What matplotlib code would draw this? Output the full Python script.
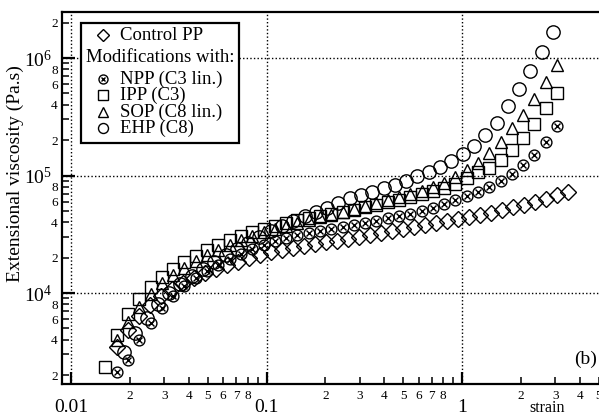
import numpy as np
import matplotlib
matplotlib.use("Agg")
import matplotlib.pyplot as plt
from matplotlib.lines import Line2D
from matplotlib.patches import Rectangle
from matplotlib.ticker import LogLocator, FuncFormatter, LogFormatterSciNotation

plt.rcParams['font.family'] = ['Liberation Serif', 'DejaVu Serif']
plt.rcParams['mathtext.fontset'] = 'stix'

# ---- data (strain, extensional viscosity in Pa.s) ----
strain_pp = [0.0172, 0.0196, 0.0223, 0.0254, 0.0289, 0.0329, 0.0374, 0.0426, 0.0485, 0.0552,
             0.0629, 0.0715, 0.0814, 0.0927, 0.1055, 0.120, 0.1367, 0.1556, 0.177, 0.2017,
             0.2296, 0.2613, 0.2974, 0.3385, 0.3853, 0.4386, 0.4993, 0.568, 0.647, 0.736,
             0.838, 0.954, 1.086, 1.236, 1.408, 1.602, 1.824, 2.076, 2.364, 2.691, 3.063, 3.486]
visc_pp = [3470, 4840, 6370, 7900, 9430, 10820, 12160, 13420, 14800, 16000,
           17310, 18360, 19860, 21060, 22340, 23220, 24150, 25120, 26120, 27170,
           27710, 28820, 29970, 31170, 32410, 33710, 35060, 36460, 37920, 39430,
           41010, 42650, 44350, 46120, 47970, 50860, 53930, 56090, 59480, 63100, 68240, 72420]

strain_mod = [0.01713, 0.01957, 0.02235, 0.02553, 0.02916, 0.03331, 0.03805, 0.04346, 0.04963, 0.05670,
              0.06476, 0.07396, 0.08448, 0.09651, 0.1102, 0.1259, 0.1438, 0.1643, 0.1876, 0.2143,
              0.2447, 0.2796, 0.3193, 0.3648, 0.4166, 0.4759, 0.5436, 0.6209, 0.7091, 0.8100,
              0.9254, 1.057, 1.207, 1.379, 1.575, 1.799, 2.055, 2.347, 2.681, 3.063]
strain_npp = strain_mod
visc_npp = [2127, 2690, 3981, 5555, 7452, 9430, 11470, 13420, 15390, 17310,
            19470, 21480, 23690, 25620, 27710, 29380, 31170, 32410, 33710, 35060,
            36460, 37920, 39430, 41010, 43480, 45230, 47030, 49880, 52900, 57200,
            61870, 66910, 72420, 79830, 89780, 103000, 122900, 149500, 192800, 263800]

strain_ipp = [0.01500] + strain_mod
visc_ipp = [2346, 4390, 6627, 8890, 11250, 13680, 16000, 18360, 20640, 23220,
            25620, 28260, 30560, 33050, 35060, 37170, 39430, 41810, 43480, 45230,
            47030, 48920, 50860, 53930, 56090, 59480, 61870, 65620, 69600, 73810,
            78280, 84660, 95210, 107100, 115800, 135500, 164800, 208500, 274400, 375400, 503600]

strain_sop = strain_mod
visc_sop = [3981, 5665, 7601, 9806, 12160, 14230, 16320, 18720, 21060, 23220,
            25620, 28260, 30560, 33050, 35060, 37170, 39430, 41810, 44350, 46120,
            48920, 51860, 55000, 58340, 61870, 65620, 69600, 73810, 79830, 86340,
            97100, 111400, 127800, 155400, 192800, 253700, 327300, 447900, 624800, 871800]

strain_ehp = [0.01867, 0.02133, 0.02437, 0.02782, 0.03178, 0.03630, 0.04146, 0.04735, 0.05408, 0.06177,
              0.07055, 0.08058, 0.09203, 0.1051, 0.1201, 0.1371, 0.1566, 0.1789, 0.2043, 0.2334,
              0.2666, 0.3044, 0.3477, 0.3972, 0.4536, 0.5181, 0.5918, 0.6759, 0.7720, 0.8817,
              1.007, 1.150, 1.314, 1.501, 1.714, 1.958, 2.236, 2.554, 2.917]
visc_ehp = [3147, 4566, 6127, 8061, 10000, 11930, 13950, 16000, 18360, 21060,
            23690, 26650, 29970, 33710, 37170, 41010, 45230, 48920, 52900, 58340,
            64370, 68240, 72420, 78280, 83020, 89780, 99020, 107100, 118100, 132900,
            152400, 178300, 221200, 279800, 390400, 544800, 775300, 1124700, 1664000]

legend_labels = ["Control PP", "Modifications with:", "NPP (C3 lin.)", "IPP (C3)",
                 "SOP (C8 lin.)", "EHP (C8)"]

W, H = 599, 416
fig = plt.figure(figsize=(W / 100, H / 100), dpi=100)
ax = fig.add_axes([62 / W, 1 - 384 / H, (W - 62) / W, (384 - 12) / H])

mk = dict(ls="none", mfc="none", mec="k", mew=1.0)
ax.plot(strain_pp, visc_pp, marker="D", ms=8.0, **mk, zorder=3)
ax.plot(strain_ehp, visc_ehp, marker="o", ms=9.6, **mk, zorder=3)
ax.plot(strain_sop, visc_sop, marker="^", ms=8.8, **mk, zorder=3)
ax.plot(strain_ipp, visc_ipp, marker="s", ms=8.6, **mk, zorder=3)
ax.plot(strain_npp, visc_npp, marker="o", ms=7.8, **mk, zorder=3)
ax.plot(strain_npp, visc_npp, marker="x", ms=4.4, **mk, zorder=3)

ax.set_xscale("log")
ax.set_yscale("log")
ax.set_xlim(0.00899, 5.02)
ax.set_ylim(1681, 2.464e6)

ax.xaxis.set_major_locator(LogLocator(base=10, numticks=10))
ax.xaxis.set_minor_locator(LogLocator(base=10, subs=range(2, 10), numticks=20))
ax.yaxis.set_major_locator(LogLocator(base=10, numticks=10))
ax.yaxis.set_minor_locator(LogLocator(base=10, subs=range(2, 10), numticks=20))


def digit(v):
    return int(round(v / 10 ** np.floor(np.log10(v) + 1e-9)))


ax.xaxis.set_major_formatter(FuncFormatter(lambda v, p: f"{v:g}"))
ax.xaxis.set_minor_formatter(FuncFormatter(lambda v, p: str(digit(v)) if 2 <= digit(v) <= 8 else ""))
ax.yaxis.set_major_formatter(LogFormatterSciNotation())
ax.yaxis.set_minor_formatter(FuncFormatter(lambda v, p: str(digit(v)) if digit(v) in (2, 4, 6, 8) else ""))

ax.tick_params(which="major", direction="in", length=9, width=1.6, labelsize=14)
ax.tick_params(which="minor", direction="in", length=5, width=1.1, labelsize=9.5)
ax.xaxis.set_tick_params(which="major", pad=10.5)
ax.xaxis.set_tick_params(which="minor", pad=4)
ax.yaxis.set_tick_params(which="major", pad=7)
ax.yaxis.set_tick_params(which="minor", pad=3)

for side in ("left", "bottom", "top"):
    ax.spines[side].set_linewidth(1.6)
ax.spines["right"].set_visible(False)

ax.grid(which="major", color="k", ls=(0, (1, 1.6)), lw=1.0)
ax.set_axisbelow(True)

ax.set_ylabel("Extensional viscosity (Pa.s)", fontsize=14)
ax.yaxis.set_label_coords(-0.07, 0.565)
ax.set_xlabel("strain", fontsize=11.5, va="baseline")
ax.xaxis.set_label_coords(0.903, -0.0766)
ax.text(0.975, 0.065, "(b)", transform=ax.transAxes, fontsize=14, ha="center", va="center")

# ---- hand-made legend box (text block with symbols) ----
def fx(px):
    return px / W


def fy(py):
    return 1 - py / H


box = Rectangle((fx(81), fy(143)), fx(239) - fx(81), fy(23) - fy(143), transform=fig.transFigure,
                facecolor="white", edgecolor="k", lw=1.6, zorder=5)
fig.add_artist(box)
rows = [35, 58, 79, 95, 112, 128]
keys = [("D", 6.0), None, ("o", 6.5), ("s", 6.8), ("^", 7.0), ("o", 7.2)]
for i, (lab, ry) in enumerate(zip(legend_labels, rows)):
    if keys[i] is None:
        fig.text(fx(86), fy(ry), lab, fontsize=13.5, va="center", ha="left", zorder=6)
        continue
    m, s = keys[i]
    fig.add_artist(Line2D([fx(103)], [fy(ry)], transform=fig.transFigure, marker=m, ms=s,
                          ls="none", mfc="none", mec="k", mew=1.0, zorder=6))
    if i == 2:
        fig.add_artist(Line2D([fx(103)], [fy(ry)], transform=fig.transFigure, marker="x", ms=3.4,
                              ls="none", mec="k", mew=1.0, zorder=6))
    fig.text(fx(120), fy(ry), lab, fontsize=13.5, va="center", ha="left", zorder=6)

fig.savefig("out.png", dpi=100)
